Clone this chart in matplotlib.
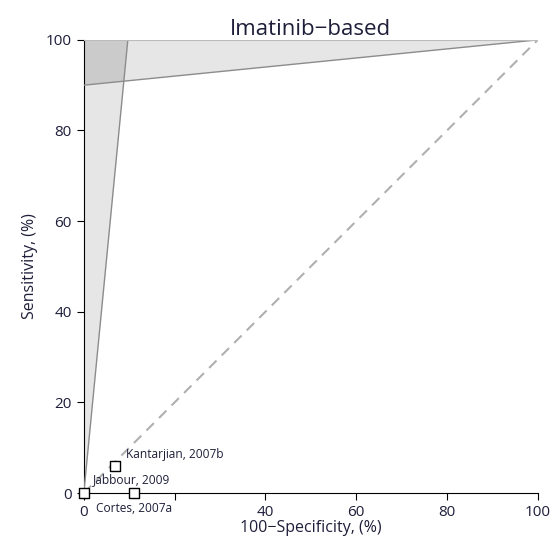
import matplotlib
matplotlib.use("Agg")
import matplotlib.pyplot as plt
from matplotlib.patches import Polygon

plt.rcParams['font.family'] = ['Open Sans', 'DejaVu Sans']

# studies: 100-specificity (%), sensitivity (%)
studies = ["Kantarjian, 2007b", "Jabbour, 2009", "Cortes, 2007a"]
fpr = [6.8, 0.0, 11.0]
sens = [6.0, 0.0, 0.0]

# confidence bounds
sens_low = 90.0
fpr_high = 9.7

ticks = [0, 20, 40, 60, 80, 100]
xtick_labels = ["0", "", "40", "60", "80", "100"]  # "20" is hidden under a study label
ytick_labels = ["0", "20", "40", "60", "80", "100"]

txt = '#1e1e3a'

fig = plt.figure(figsize=(5.55, 5.46), dpi=100)
ax = fig.add_axes([0.151, 0.097, 0.818, 0.830])

# vertical band (specificity) and horizontal band (sensitivity)
vert = [(0, 0), (0, 100), (fpr_high, 100)]
horiz = [(0, sens_low), (0, 100), (100, 100)]
ax.add_patch(Polygon(vert, closed=True, facecolor='#e6e6e6', edgecolor='none', zorder=1))
ax.add_patch(Polygon(horiz, closed=True, facecolor='#e6e6e6', edgecolor='none', zorder=1))
# overlap
x_int = fpr_high * sens_low / 100.0 / (1 - fpr_high * 0.1 / 100.0)
y_int = sens_low + x_int * (100 - sens_low) / 100.0
ax.add_patch(Polygon([(0, sens_low), (0, 100), (fpr_high, 100), (x_int, y_int)], closed=True,
                     facecolor='#cbcbcb', edgecolor='none', zorder=2))
ax.plot([0, fpr_high], [0, 100], color='#8c8c8c', lw=1.0, zorder=3)
ax.plot([0, 100], [sens_low, 100], color='#8c8c8c', lw=1.0, zorder=3)
ax.plot([0, 100], [100, 100], color='#bbbbbb', lw=1.5, zorder=3)

# chance line
ax.plot([0, 100], [0, 100], color='#b0b0b0', lw=1.5, ls=(0, (5, 3.5)), zorder=2)

ax.scatter(fpr, sens, marker='s', s=42, facecolor='white', edgecolor='black', lw=1.0, zorder=5, clip_on=False)

label_pos = [(9.3, 8.4), (2.0, 3.0), (2.6, -3.4)]
for name, (lx, ly) in zip(studies, label_pos):
    ax.text(lx, ly, name, fontsize=8.6, color=txt, va='center', ha='left', zorder=6)

ax.set_xlim(0, 100)
ax.set_ylim(0, 100)
ax.set_xticks(ticks)
ax.set_xticklabels(xtick_labels)
ax.set_yticks(ticks)
ax.set_yticklabels(ytick_labels)
ax.tick_params(labelsize=11, length=5, colors='black', labelcolor=txt)
for s in ['top', 'right']:
    ax.spines[s].set_visible(False)
ax.set_xlabel("100\u2212Specificity, (%)", fontsize=11.5, color=txt, labelpad=0)
ax.set_ylabel("Sensitivity, (%)", fontsize=11.5, color=txt, labelpad=6)
ax.set_title("Imatinib\u2212based", fontsize=16, color=txt, pad=3)

fig.savefig("out.png", dpi=100)
